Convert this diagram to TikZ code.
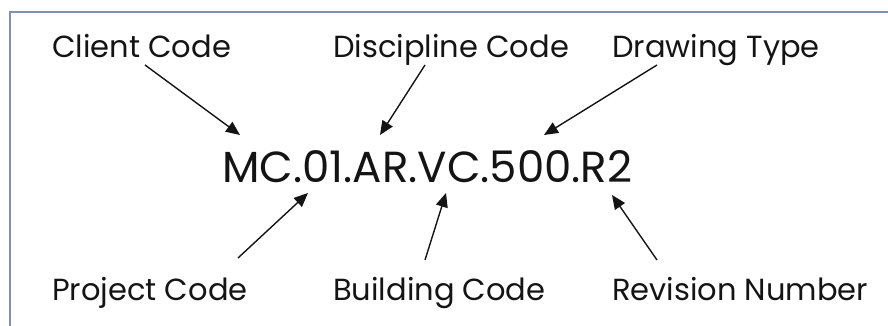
\documentclass[tikz,border=0pt]{standalone}
\usepackage{fontspec}
\setmainfont{Poppins}
\usetikzlibrary{arrows.meta,positioning}
\definecolor{Frame}{HTML}{8290B4}
\definecolor{Ink}{HTML}{141414}
\tikzset{
  tag/.style={font=\fontsize{30.5}{34}\selectfont,text=Ink,inner sep=0pt,anchor=base west},
  code/.style={font=\fontsize{43.5}{48}\selectfont,text=Ink,inner sep=0pt,anchor=base west},
  pointer/.style={-{Triangle[length=14pt,width=12pt]},draw=Ink,line width=1.4pt}
}
\begin{document}
\begin{tikzpicture}[x=1pt,y=-1pt]
  \useasboundingbox (0,0) rectangle (888,326);
  % frame, open on the right and at the bottom
  \draw[Frame,line width=1.2pt] (888,12) -- (10,12) -- (10,326);
  % the drawing number
  \node[code] (num) at (222,182) {MC.01.AR.VC.500.R2};
  % labels above
  \node[tag] (client) at (52,58) {Client Code};
  \node[tag] (disc) at (333,58) {Discipline Code};
  \node[tag] (dtype) at (612,58) {Drawing Type};
  % labels below
  \node[tag] (proj) at (52,300) {Project Code};
  \node[tag] (bldg) at (333,300) {Building Code};
  \node[tag] (rev) at (612,300) {Revision Number};
  % pointers
  \draw[pointer] ([shift={(93,7)}]client.base west) -- ([shift={(18,-47)}]num.base west);
  \draw[pointer] ([shift={(92,7)}]disc.base west) -- ([shift={(158,-47)}]num.base west);
  \draw[pointer] ([shift={(45,7)}]dtype.base west) -- ([shift={(322,-47)}]num.base west);
  \draw[pointer] ([shift={(186,-42)}]proj.base west) -- ([shift={(86,11)}]num.base west);
  \draw[pointer] ([shift={(92,-40)}]bldg.base west) -- ([shift={(224,11)}]num.base west);
  \draw[pointer] ([shift={(45,-40)}]rev.base west) -- ([shift={(390,13)}]num.base west);
\end{tikzpicture}
\end{document}
